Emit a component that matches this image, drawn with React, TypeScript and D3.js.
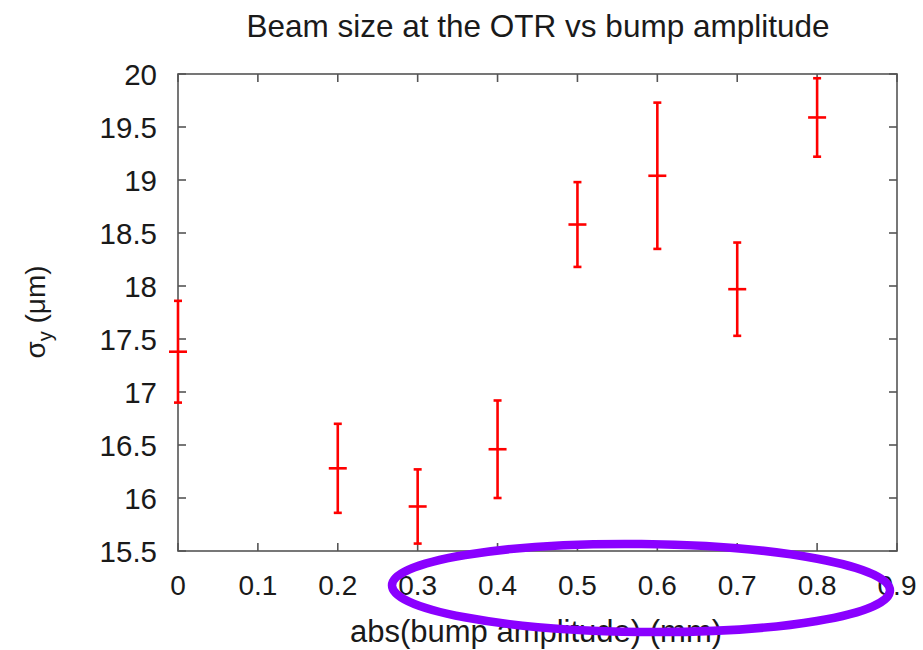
import React from "react";
import * as d3 from "d3";

const amplitudes = [0, 0.2, 0.3, 0.4, 0.5, 0.6, 0.7, 0.8];
const sigmaY = [17.38, 16.28, 15.92, 16.46, 18.58, 19.04, 17.97, 19.59];
const sigmaErr = [0.48, 0.42, 0.35, 0.46, 0.4, 0.69, 0.44, 0.37];
const xTicks = [0, 0.1, 0.2, 0.3, 0.4, 0.5, 0.6, 0.7, 0.8, 0.9];
const yTicks = [15.5, 16, 16.5, 17, 17.5, 18, 18.5, 19, 19.5, 20];

const W = 923;
const H = 650;
const M = { left: 178, right: 897, top: 74, bottom: 551 };

export default function App() {
  const x = d3.scaleLinear().domain([0, 0.9]).range([M.left, M.right]);
  const y = d3.scaleLinear().domain([15.5, 20]).range([M.bottom, M.top]);
  const axisColor = "#555";
  const font = "'Liberation Sans', Arial, Helvetica, sans-serif";
  const tickLen = 8;
  return (
    <svg
      width={W}
      height={H}
      style={{ position: "absolute", left: 0, top: 0, background: "#fff" }}
      fontFamily={font}
    >
      <rect x={0} y={0} width={W} height={H} fill="#fff" />
      <text x={538} y={37} textAnchor="middle" fontSize={31.5} fill="#1a1a1a">
        Beam size at the OTR vs bump amplitude
      </text>
      {/* frame */}
      <rect
        x={M.left}
        y={M.top}
        width={M.right - M.left}
        height={M.bottom - M.top}
        fill="none"
        stroke={axisColor}
        strokeWidth={1.6}
      />
      {xTicks.map((t) => (
        <g key={"x" + t}>
          <line x1={x(t)} x2={x(t)} y1={M.bottom} y2={M.bottom - tickLen} stroke={axisColor} strokeWidth={1.6} />
          <line x1={x(t)} x2={x(t)} y1={M.top} y2={M.top + tickLen} stroke={axisColor} strokeWidth={1.6} />
          <text x={x(t)} y={595} textAnchor="middle" fontSize={28} fill="#1a1a1a">
            {String(t)}
          </text>
        </g>
      ))}
      {yTicks.map((t) => (
        <g key={"y" + t}>
          <line x1={M.left} x2={M.left + tickLen} y1={y(t)} y2={y(t)} stroke={axisColor} strokeWidth={1.6} />
          <line x1={M.right} x2={M.right - tickLen} y1={y(t)} y2={y(t)} stroke={axisColor} strokeWidth={1.6} />
          <text x={157} y={y(t) + 11} textAnchor="end" fontSize={29.5} fill="#1a1a1a">
            {String(t)}
          </text>
        </g>
      ))}
      <text x={536} y={642} textAnchor="middle" fontSize={31} fill="#1a1a1a">
        abs(bump amplitude) (mm)
      </text>
      <g transform="translate(45,312) rotate(-90)">
        <text x={0} y={0} textAnchor="middle" fontSize={28} fill="#1a1a1a">
          σ<tspan fontSize={20} dy={7}>y</tspan>
          <tspan dy={-7}> (μm)</tspan>
        </text>
      </g>
      {/* error bars */}
      {amplitudes.map((a, i) => {
        const cx = x(a);
        const cy = y(sigmaY[i]);
        const top = y(Math.min(20, sigmaY[i] + sigmaErr[i]));
        const bot = y(sigmaY[i] - sigmaErr[i]);
        const red = "#ff0000";
        return (
          <g key={"p" + i} stroke={red} strokeWidth={2.6}>
            <line x1={cx} x2={cx} y1={top} y2={bot} />
            <line x1={cx - 4} x2={cx + 4} y1={top} y2={top} />
            <line x1={cx - 4} x2={cx + 4} y1={bot} y2={bot} />
            <line x1={cx - 9} x2={cx + 9} y1={cy} y2={cy} />
          </g>
        );
      })}
      {/* annotation ellipse */}
      <ellipse
        cx={641}
        cy={588}
        rx={249}
        ry={44}
        fill="none"
        stroke="#8a00ff"
        strokeWidth={8.5}
        transform="rotate(0.6 641 588)"
      />
    </svg>
  );
}
